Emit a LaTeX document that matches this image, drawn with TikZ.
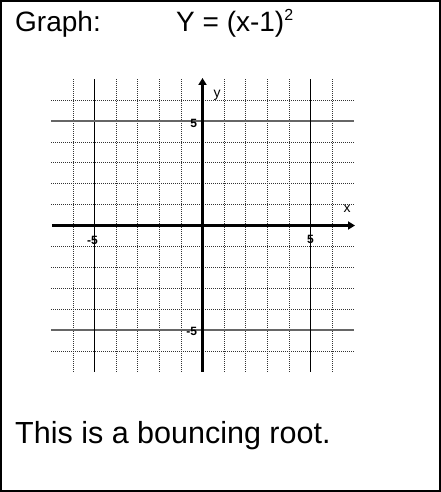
\documentclass[tikz,border=0pt]{standalone}
\usepackage{fontspec}
\setmainfont{Liberation Sans}
\usetikzlibrary{arrows.meta}
\tikzset{
  minor/.style={black!80, line width=0.7pt, dash pattern=on 1pt off 1pt},
  majorv/.style={black, line width=0.9pt},
  majorh/.style={black!60, line width=1.6pt},
  axis/.style={line width=2.6pt, -{Triangle[length=7pt, width=8pt]}},
  ticklabel/.style={font=\fontsize{12}{14}\selectfont\bfseries, inner sep=1pt},
  axislabel/.style={font=\fontsize{14}{16}\selectfont, inner sep=1pt},
  bigtext/.style={font=\fontsize{28}{32}\selectfont, inner sep=0pt, anchor=base west},
}

\begin{document}
\begin{tikzpicture}[x=1pt, y=1pt]
\useasboundingbox (0,0) rectangle (441,-492);
\draw[line width=2pt] (1,-1) rectangle (440,-491);

\node[bigtext] (title) at (15,-32) {Graph:};
\node[bigtext] (eqn) at (176,-32) {Y = (x-1)\raisebox{11pt}{\fontsize{16}{18}\selectfont 2}};

% Grid, 14 by 14 units, axes through the middle.
\begin{scope}[shift={(202.5,-225.5)}, x=21.6pt, y=20.9pt]
  \foreach \i in {-6,-4,-3,-2,-1,1,2,3,4,6} {
    \draw[minor] (\i,-7) -- (\i,7);
    \draw[minor] (-7,\i) -- (7,\i);
  }
  \foreach \i in {-5,5} {
    \draw[majorh] (-7,\i) -- (7,\i);
    \draw[majorv] (\i,-7) -- (\i,7);
  }
  \draw[axis] (-6.97,0) -- (7.06,0);
  \draw[axis] (0,-7) -- (0,7.06);
  \node[axislabel] (xlab) at (6.7,0.8) {x};
  \node[axislabel] (ylab) at (0.68,6.25) {y};
  \node[ticklabel] (xm5) at (-5.1,-0.7) {-5};
  \node[ticklabel] (xp5) at (5,-0.68) {5};
  \node[ticklabel, anchor=east] (yp5) at (-0.2,4.88) {5};
  \node[ticklabel, anchor=east] (ym5) at (-0.2,-5.05) {-5};
\end{scope}

\node[bigtext, font=\fontsize{30.5}{35}\selectfont] (caption) at (15,-443) {This is a bouncing root.};

\end{tikzpicture}
\end{document}
